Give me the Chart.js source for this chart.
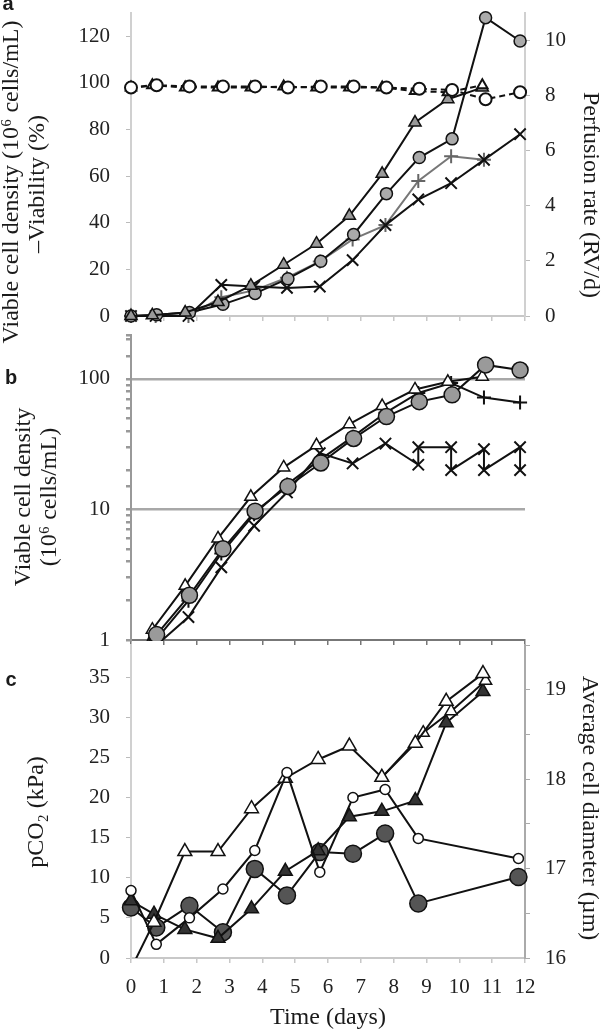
<!DOCTYPE html>
<html><head><meta charset="utf-8">
<script src="https://cdn.jsdelivr.net/npm/chart.js@4.4.0/dist/chart.umd.min.js"></script>
<style>
html,body{margin:0;padding:0;background:#fff;width:604px;height:1034px;overflow:hidden}
.p{position:absolute;left:0;width:604px}
canvas{display:block}
</style></head><body>
<div class="p" style="top:0;height:350px"><canvas id="ca" width="604" height="350"></canvas></div>
<div class="p" style="top:320px;height:330px"><canvas id="cb" width="604" height="330"></canvas></div>
<div class="p" style="top:630px;height:404px"><canvas id="cc" width="604" height="404"></canvas></div>
<script>
// ---------- sampling days ----------
const dayTickLabels = ['0','1','2','3','4','5','6','7','8','9','10','11','12'];
const triDays  = [0, 0.65, 1.65, 2.65, 3.65, 4.65, 5.65, 6.65, 7.65, 8.65, 9.65, 10.7];
const circDays = [0, 0.78, 1.78, 2.8, 3.78, 4.78, 5.78, 6.78, 7.78, 8.78, 9.78, 10.8, 11.85];
const perfDays = [0, 0.75, 1.75, 2.75, 3.75, 4.75, 5.75, 6.75, 7.75, 8.75, 9.75, 10.75, 11.85];

// ---------- panel a ----------
const vcdTriA   = [0, 0.3, 1.5, 6, 13, 22, 31, 43, 61, 83, 93, 98];
const vcdCircA  = [0, 0.5, 1.5, 5, 9.7, 16, 23.5, 35, 52.5, 68, 76, 128, 118];
const viabTriA  = [98, 99, 98, 98, 98, 98.5, 98, 98, 98, 96.5, 96, 99];
const viabCircA = [98, 99, 98.5, 98.5, 98.5, 98, 98.5, 98.5, 98, 97.5, 97, 93, 96];
const perfXA    = [0, 0, 0, 1.13, 1.07, 1.02, 1.07, 2.03, 3.3, 4.23, 4.82, 5.67, 6.6];
const perfPlusA = [0, 0, 0, 0.68, 0.93, 1.39, 1.98, 2.78, 3.3, 4.9, 5.8, 5.67];

// ---------- panel b (log) ----------
const vcdTriB  = [0.5, 1.2, 2.6, 6, 12.5, 21, 31, 45, 62, 83, 95, 104];
const vcdCircB = [0.5, 1.1, 2.2, 5.0, 9.7, 15, 22.7, 35, 51.5, 67, 75.5, 128, 117];
const vcdPlusB = [0.5, 1.0, 2.0, 4.6, 9.2, 15.5, 24, 36, 55, 78, 93, 72, 66];
const sawDaysB = [0, 0.75, 1.75, 2.75, 3.75, 4.75, 5.75, 6.75, 7.75, 8.75, 8.75, 9.75, 9.75, 10.75, 10.75, 11.85, 11.85];
const sawValsB = [0.4, 0.9, 1.5, 3.6, 7.5, 13.5, 27, 22.5, 32, 22, 30, 30, 20, 29, 20, 30, 20];

// ---------- panel c ----------
const pco2Days  = [0, 0.77, 1.78, 2.8, 3.77, 4.75, 5.75, 6.76, 7.74, 8.75, 11.8];
const pco2Open  = [8.4, 1.7, 5.0, 8.6, 13.4, 23.1, 10.7, 20.0, 21.0, 14.9, 12.4];
const pco2Dark  = [6.3, 3.8, 6.5, 3.2, 11.1, 7.8, 13.2, 13.0, 15.5, 6.8, 10.1];
const diamDays  = [0, 0.7, 1.64, 2.65, 3.67, 4.7, 5.7, 6.65, 7.64, 8.66, 9.6, 10.72];
const diamOpen  = [15.88, 16.40, 17.19, 17.19, 17.67, 18.01, 18.22, 18.37, 18.02, 18.40, 18.87, 19.18];
const diamDark  = [16.64, 16.49, 16.32, 16.22, 16.55, 16.97, 17.20, 17.58, 17.64, 17.76, 18.63, 18.98];
const diamDays2 = [7.64, 8.9, 9.75, 10.8];
const diamOpen2 = [18.02, 18.52, 18.76, 19.10];

// ---------- texts ----------
const titlesA = ['Viable cell density (10\u2076 cells/mL)', '\u2013Viability (%)', 'Perfusion rate (RV/d)'];
const titlesB = ['Viable cell density', '(10\u2076 cells/mL)'];
const titlesC = ['pCO\u2082 (kPa)', 'Average cell diameter (\u00b5m)', 'Time (days)'];
const panelLetters = ['a', 'b', 'c'];

const SERIF = "'Liberation Serif', 'Times New Roman', serif";
const TICKFONT = {family: SERIF, size: 21};
const TITLEPX = 24;

const textPlugin = {
  id: 'sideText',
  afterDraw(chart, args, opts) {
    const ctx = chart.ctx;
    (opts.items || []).forEach(it => {
      ctx.save();
      ctx.translate(it.x, it.y);
      ctx.rotate(it.rot || 0);
      ctx.font = it.font;
      ctx.fillStyle = '#1a1a1a';
      ctx.textAlign = 'center';
      ctx.textBaseline = 'middle';
      ctx.fillText(it.text, 0, 0);
      ctx.restore();
    });
  }
};

function ds(xs, ys, o) {
  return Object.assign({
    data: ys.map((y, i) => ({x: xs[i], y: y})),
    showLine: true, borderColor: '#111', borderWidth: 2, pointRadius: 6,
    pointBorderColor: '#111', pointBorderWidth: 1.5, pointBackgroundColor: '#fff',
    yAxisID: 'y', clip: false
  }, o);
}
const fixW = w => s => { s.width = w; s.paddingTop = 0; s.paddingBottom = 0; };
const fixH = h => s => { s.height = h; s.paddingLeft = 0; s.paddingRight = 0; };

function xAxis(h, showLabels, axisColor) {
  return {
    type: 'linear', min: 0, max: 12,
    ticks: {stepSize: 1, display: showLabels, font: TICKFONT, color: '#222', padding: 12,
            autoSkip: false, maxRotation: 0,
            callback: (v) => dayTickLabels[v] !== undefined ? dayTickLabels[v] : ''},
    grid: {drawOnChartArea: false, tickLength: 5, tickColor: axisColor, lineWidth: 1.5},
    border: {color: axisColor, width: 2},
    afterFit: fixH(h)
  };
}
const rotL = -Math.PI / 2, rotR = Math.PI / 2;
const tf = `${TITLEPX}px ${SERIF}`;
const letterFont = "bold 20px 'Liberation Sans', Arial, sans-serif";

// ===== Panel a =====
new Chart(document.getElementById('ca'), {
  type: 'scatter',
  data: {datasets: [
    ds(circDays, viabCircA, {borderDash: [6, 4], pointStyle: 'circle', pointRadius: 6, pointBorderWidth: 2}),
    ds(triDays, viabTriA, {borderDash: [6, 4], pointStyle: 'triangle', pointRadius: 6, pointBorderWidth: 2}),
    ds(triDays, vcdTriA, {pointStyle: 'triangle', pointRadius: 7, pointBackgroundColor: '#999'}),
    ds(circDays, vcdCircA, {pointStyle: 'circle', pointRadius: 6, pointBackgroundColor: '#aaa'}),
    ds(perfDays, perfXA, {yAxisID: 'y2', pointStyle: 'crossRot', pointRadius: 8, pointBorderWidth: 2}),
    ds(perfDays, perfPlusA, {yAxisID: 'y2', borderColor: '#777', pointBorderColor: '#666', pointStyle: 'cross', pointRadius: 7, pointBorderWidth: 2})
  ]},
  options: {
    responsive: false, animation: false,
    layout: {padding: {top: 13, left: 0, right: 0, bottom: 0}},
    plugins: {legend: {display: false}, tooltip: {enabled: false},
      sideText: {items: [
        {text: panelLetters[0], x: 8, y: 4, font: letterFont},
        {text: titlesA[0], x: 12, y: 182, rot: rotL, font: tf},
        {text: titlesA[1], x: 38, y: 184, rot: rotL, font: tf},
        {text: titlesA[2], x: 590, y: 195, rot: rotR, font: tf}
      ]}},
    scales: {
      x: xAxis(34, false, '#c8c8c8'),
      y: {position: 'left', min: 0, max: 130,
          ticks: {stepSize: 20, includeBounds: false, font: TICKFONT, color: '#222', padding: 16},
          grid: {drawOnChartArea: false, tickLength: 5, tickColor: '#bbb'},
          border: {color: '#d0d0d0', width: 2}, afterFit: fixW(131)},
      y2: {position: 'right', min: 0, max: 11,
          ticks: {stepSize: 1, includeBounds: false, font: TICKFONT, color: '#222', padding: 15,
                  callback: v => (v % 2 === 0 ? String(v) : '')},
          grid: {drawOnChartArea: false, tickLength: 5, tickColor: '#bbb'},
          border: {color: '#d0d0d0', width: 2}, afterFit: fixW(79)}
    }
  },
  plugins: [textPlugin]
});

// ===== Panel b =====
const majorLog = v => [1, 10, 100].includes(Math.round(v * 1000) / 1000);
new Chart(document.getElementById('cb'), {
  type: 'scatter',
  data: {datasets: [
    ds(circDays, vcdCircB, {pointStyle: 'circle', pointRadius: 8, pointBackgroundColor: '#9a9a9a', clip: {left: 12, right: 12, top: 12, bottom: 1}}),
    ds(triDays, vcdTriB, {pointStyle: 'triangle', pointRadius: 7, pointBackgroundColor: '#fff', clip: {left: 12, right: 12, top: 12, bottom: 1}}),
    ds(perfDays, vcdPlusB, {pointStyle: 'cross', pointRadius: 7, pointBorderWidth: 2, clip: {left: 12, right: 12, top: 12, bottom: 1}}),
    ds(sawDaysB, sawValsB, {pointStyle: 'crossRot', pointRadius: 8, pointBorderWidth: 2, clip: {left: 12, right: 12, top: 12, bottom: 1}})
  ]},
  options: {
    responsive: false, animation: false,
    layout: {padding: {top: 15, left: 0, right: 79, bottom: 0}},
    plugins: {legend: {display: false}, tooltip: {enabled: false},
      sideText: {items: [
        {text: panelLetters[1], x: 11, y: 58, font: letterFont},
        {text: titlesB[0], x: 24, y: 177, rot: rotL, font: tf},
        {text: titlesB[1], x: 50, y: 177, rot: rotL, font: tf}
      ]}},
    scales: {
      x: xAxis(9, false, '#777'),
      y: {type: 'logarithmic', position: 'left', min: 1, max: 217,
          ticks: {autoSkip: false, font: TICKFONT, color: '#222', padding: 16,
                  callback: v => (majorLog(v) ? String(Math.round(v)) : '')},
          grid: {drawOnChartArea: true, tickLength: 5, lineWidth: 2.5,
                 color: c => (c.tick && (Math.round(c.tick.value) === 10 || Math.round(c.tick.value) === 100) ? '#a8a8a8' : 'rgba(0,0,0,0)'),
                 tickColor: '#999'},
          border: {color: '#999', width: 2}, afterFit: fixW(131)}
    }
  },
  plugins: [textPlugin]
});

// ===== Panel c =====
new Chart(document.getElementById('cc'), {
  type: 'scatter',
  data: {datasets: [
    ds(pco2Days, pco2Open, {pointStyle: 'circle', pointRadius: 5, pointBackgroundColor: '#fff'}),
    ds(diamDays, diamOpen, {yAxisID: 'y2', pointStyle: 'triangle', pointRadius: 8, pointBackgroundColor: '#fff', clip: {left: 12, right: 12, top: 12, bottom: 0}}),
    ds(diamDays2, diamOpen2, {yAxisID: 'y2', pointStyle: 'triangle', pointRadius: 7, pointBackgroundColor: '#fff'}),
    ds(diamDays, diamDark, {yAxisID: 'y2', pointStyle: 'triangle', pointRadius: 8, pointBackgroundColor: '#333'}),
    ds(pco2Days, pco2Dark, {pointStyle: 'circle', pointRadius: 8.5, pointBackgroundColor: '#555'})
  ]},
  options: {
    responsive: false, animation: false,
    layout: {padding: {top: 15, left: 0, right: 0, bottom: 0}},
    plugins: {legend: {display: false}, tooltip: {enabled: false},
      sideText: {items: [
        {text: panelLetters[2], x: 11, y: 50, font: letterFont},
        {text: titlesC[0], x: 37, y: 182, rot: rotL, font: tf},
        {text: titlesC[1], x: 589, y: 178, rot: rotR, font: tf}
      ]}},
    scales: {
      x: Object.assign(xAxis(76, true, '#c8c8c8'), {
        title: {display: true, text: titlesC[2], font: {family: SERIF, size: TITLEPX}, color: '#1a1a1a', padding: {top: 0, bottom: 2}}
      }),
      y: {position: 'left', min: 0, max: 39,
          ticks: {stepSize: 5, includeBounds: false, font: TICKFONT, color: '#222', padding: 16},
          grid: {drawOnChartArea: false, tickLength: 5, tickColor: '#bbb'},
          border: {color: '#d0d0d0', width: 2}, afterFit: fixW(131)},
      y2: {position: 'right', min: 16, max: 19.5,
          ticks: {stepSize: 0.5, includeBounds: false, font: TICKFONT, color: '#222', padding: 15,
                  callback: v => (Math.abs(v - Math.round(v)) < 1e-6 ? String(Math.round(v)) : '')},
          grid: {drawOnChartArea: false, tickLength: 5, tickColor: '#aaa'},
          border: {color: '#aaa', width: 2}, afterFit: fixW(79)}
    }
  },
  plugins: [textPlugin]
});
</script>
</body></html>
